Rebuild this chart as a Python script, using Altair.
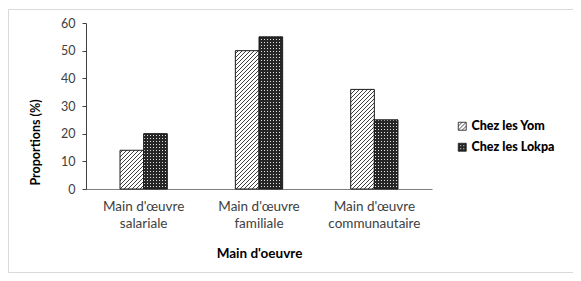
import altair as alt
import pandas as pd
import jinja2

categories = ["Main d'œuvre|salariale", "Main d'œuvre|familiale", "Main d'œuvre|communautaire"]
series = ["Chez les Yom", "Chez les Lokpa"]
yom = [14, 50, 36]
lokpa = [20, 55, 25]
y_ticks = [0, 10, 20, 30, 40, 50, 60]

rows = []
for c, a, b in zip(categories, yom, lokpa):
    rows.append({"cat": c, "serie": series[0], "val": a})
    rows.append({"cat": c, "serie": series[1], "val": b})
df = pd.DataFrame(rows)

FONT = "Lato"

bars = alt.Chart(df).mark_bar(stroke="#1a1a1a", strokeWidth=1).encode(
    x=alt.X("cat:N", sort=categories,
            scale=alt.Scale(paddingInner=0.59, paddingOuter=0.295),
            axis=alt.Axis(title="Main d'oeuvre", labelAngle=0, ticks=False,
                          labelExpr="split(datum.label, '|')",
                          labelFont=FONT, labelFontSize=13.5, labelColor="#404040",
                          labelPadding=10, labelLineHeight=17,
                          titleFont=FONT, titleFontSize=13.5, titleFontWeight="bold",
                          titleColor="#000000", titlePadding=17,
                          domainColor="#7f7f7f", domainWidth=1.2)),
    xOffset=alt.XOffset("serie:N", sort=series,
                        scale=alt.Scale(paddingInner=0, paddingOuter=0)),
    y=alt.Y("val:Q", scale=alt.Scale(domain=[0, 60], nice=False),
            axis=alt.Axis(title="Proportions (%)", values=y_ticks, grid=False,
                          tickSize=4, tickColor="#404040", domainColor="#404040",
                          labelFont=FONT, labelFontSize=12.5, labelColor="#404040",
                          labelPadding=7,
                          titleFont=FONT, titleFontSize=12.5, titleFontWeight="bold",
                          titleColor="#000000", titleY=119, titleX=-51,
                          titleBaseline="middle")),
    fill=alt.Fill("serie:N", sort=series,
                  scale=alt.Scale(domain=series, range=["url(#hatch)", "url(#dots)"]),
                  legend=alt.Legend(title=None, orient="none", legendX=370, legendY=97,
                                    symbolType="square", symbolSize=64,
                                    symbolStrokeColor="#1a1a1a", symbolStrokeWidth=0.8,
                                    labelFont=FONT, labelFontSize=12.5,
                                    labelFontWeight=900, labelColor="#000000",
                                    labelOffset=3, rowPadding=8)),
)

one = alt.Data(values=[{}])
frame_top = alt.Chart(one).mark_rule(stroke="#d9d9d9", strokeWidth=1).encode(
    x=alt.value(-77.5), x2=alt.value(487), y=alt.value(-13.5))
frame_left = alt.Chart(one).mark_rule(stroke="#d9d9d9", strokeWidth=1).encode(
    x=alt.value(-77.5), y=alt.value(-13.5), y2=alt.value(249.5))
frame_bottom = alt.Chart(one).mark_rule(stroke="#d9d9d9", strokeWidth=1).encode(
    x=alt.value(-77.5), x2=alt.value(487), y=alt.value(249.5))

chart = alt.layer(bars, frame_top, frame_left, frame_bottom).properties(
    width=346, height=166,
    padding={"left": 78, "top": 15, "right": 141, "bottom": 84},
    autosize=alt.AutoSizeParams(type="none"),
).configure_view(stroke=None)

TEMPLATE = jinja2.Template("""<!DOCTYPE html>
<html>
<head>
<style>#{{ output_div }}.vega-embed { width: 100%; display: flex; }</style>
<script type="text/javascript" src="{{ base_url }}/vega@{{ vega_version }}"></script>
<script type="text/javascript" src="{{ base_url }}/vega-lite@{{ vegalite_version }}"></script>
<script type="text/javascript" src="{{ base_url }}/vega-embed@{{ vegaembed_version }}"></script>
</head>
<body>
<svg width="0" height="0" style="position:absolute">
<defs>
<pattern id="hatch" patternUnits="userSpaceOnUse" width="4" height="4">
<rect width="4" height="4" fill="#ffffff"/>
<path d="M-1,1 l2,-2 M0,4 l4,-4 M3,5 l2,-2" stroke="#2a2a2a" stroke-width="0.9"/>
</pattern>
<pattern id="dots" patternUnits="userSpaceOnUse" width="3" height="3">
<rect width="3" height="3" fill="#262626"/>
<rect x="1" y="1" width="1" height="1" fill="#e0e0e0"/>
</pattern>
</defs>
</svg>
<div id="{{ output_div }}"></div>
<script>
(function(vegaEmbed) {
  var spec = {{ spec }};
  var embedOpt = {{ embed_options }};
  vegaEmbed("#{{ output_div }}", spec, embedOpt).catch(console.error);
})(vegaEmbed);
</script>
</body>
</html>""")

chart.save("out.html", embed_options={"renderer": "svg", "actions": False}, template=TEMPLATE)
